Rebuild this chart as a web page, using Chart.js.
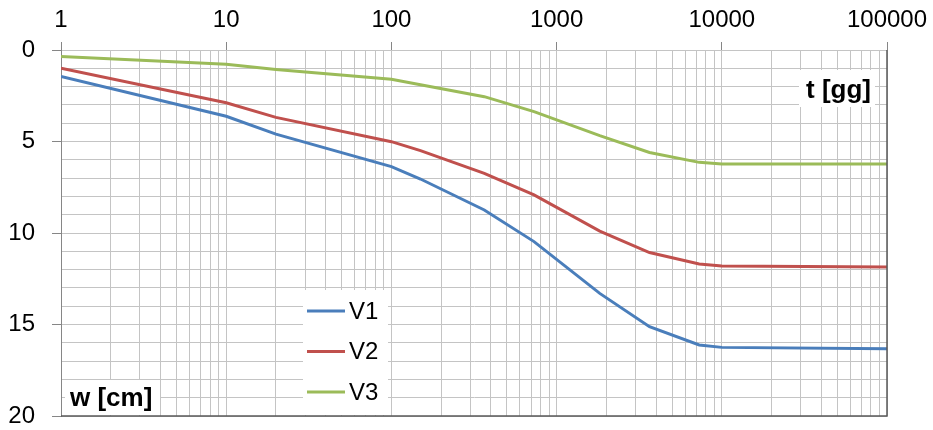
<!DOCTYPE html>
<html>
<head>
	<meta charset="utf-8">
	<title>cedimenti w(t)</title>
	<script src="https://cdn.jsdelivr.net/npm/chart.js@4.4.0/dist/chart.umd.min.js"></script>
	<style>
		body { margin: 0; background: #fff; }
		#box { width: 933px; height: 430px; }
	</style>
</head>
<body>
	<div id="box">
		<canvas id="chart"></canvas>
	</div>

	<script type="text/javascript">
		// tempi [gg] e cedimenti [cm]
		var tempi = [1, 10, 20, 100, 150, 365, 730, 1825, 3650, 7300, 10000, 100000];
		var v1 = [1.45, 3.62, 4.6, 6.37, 7.05, 8.74, 10.47, 13.3, 15.12, 16.12, 16.25, 16.32];
		var v2 = [1.0, 2.88, 3.68, 5.01, 5.5, 6.74, 7.92, 9.9, 11.07, 11.69, 11.8, 11.86];
		var v3 = [0.36, 0.78, 1.06, 1.6, 1.9, 2.55, 3.37, 4.68, 5.6, 6.14, 6.23, 6.23];
		var nomi = ['V1', 'V2', 'V3'];
		var colori = ['#4a7ebb', '#c0504d', '#9bbb59'];
		var xDecadi = [1, 10, 100, 1000, 10000, 100000];
		var yMin = 0, yMax = 20, yPasso = 1, yEtichetta = 5;
		var titoloX = 't [gg]';
		var titoloY = 'w [cm]';

		var font = "'Liberation Sans', Arial, sans-serif";
		Chart.defaults.font.family = font;
		Chart.defaults.font.size = 24;
		Chart.defaults.color = '#000';

		function punti(serie) {
			return tempi.map(function (t, i) { return { x: t, y: serie[i] }; });
		}

		function isDecade(v) {
			return xDecadi.indexOf(v) >= 0;
		}

		// bordo scuro, riquadri con i titoli e legenda dentro l'area del grafico
		var extra = {
			id: 'extra',
			afterDatasetsDraw: function (chart) {
				var ctx = chart.ctx;
				var a = chart.chartArea;
				ctx.save();

				ctx.strokeStyle = '#5a5a5a';
				ctx.lineWidth = 1.5;
				ctx.beginPath();
				ctx.moveTo(a.left, a.bottom);
				ctx.lineTo(a.right, a.bottom);
				ctx.lineTo(a.right, a.top);
				ctx.stroke();

				ctx.font = 'bold 26px ' + font;
				ctx.textBaseline = 'alphabetic';
				ctx.textAlign = 'left';

				ctx.fillStyle = '#fff';
				ctx.fillRect(a.right - 88, a.top + 20, 76, 37);
				ctx.fillStyle = '#000';
				ctx.fillText(titoloX, a.right - 81, a.top + 48);

				ctx.fillStyle = '#fff';
				ctx.fillRect(a.left + 4, a.bottom - 36, 95, 35);
				ctx.fillStyle = '#000';
				ctx.fillText(titoloY, a.left + 9, a.bottom - 10);

				// legenda
				var lx = a.left + 242, ly = a.top + 240;
				ctx.fillStyle = '#fff';
				ctx.fillRect(lx, ly, 85, a.bottom - ly - 1);
				ctx.font = '24px ' + font;
				ctx.textBaseline = 'middle';
				chart.data.datasets.forEach(function (ds, i) {
					var y = ly + 21 + i * 40.5;
					ctx.strokeStyle = ds.borderColor;
					ctx.lineWidth = 3;
					ctx.beginPath();
					ctx.moveTo(lx + 4, y);
					ctx.lineTo(lx + 42, y);
					ctx.stroke();
					ctx.fillStyle = '#000';
					ctx.fillText(ds.label, lx + 46, y + 1);
				});
				ctx.restore();
			}
		};

		var config = {
			type: 'line',
			data: {
				datasets: [
					{ label: nomi[0], data: punti(v1), borderColor: colori[0], backgroundColor: colori[0] },
					{ label: nomi[1], data: punti(v2), borderColor: colori[1], backgroundColor: colori[1] },
					{ label: nomi[2], data: punti(v3), borderColor: colori[2], backgroundColor: colori[2] }
				]
			},
			options: {
				responsive: true,
				maintainAspectRatio: false,
				animation: false,
				devicePixelRatio: 1,
				layout: { padding: { left: 0, right: 46, top: 0, bottom: 14 } },
				elements: {
					line: { borderWidth: 3, tension: 0, fill: false },
					point: { radius: 0, hoverRadius: 0 }
				},
				plugins: {
					legend: { display: false },
					tooltip: { enabled: false }
				},
				scales: {
					x: {
						type: 'logarithmic',
						position: 'top',
						min: xDecadi[0],
						max: xDecadi[xDecadi.length - 1],
						afterBuildTicks: function (scale) {
							var t = [];
							for (var d = 0; d < xDecadi.length - 1; d++) {
								for (var m = 1; m < 10; m++) {
									t.push({ value: m * xDecadi[d] });
								}
							}
							t.push({ value: xDecadi[xDecadi.length - 1] });
							scale.ticks = t;
						},
						afterFit: function (scale) {
							scale.height = 50;
							scale.paddingLeft = 0;
							scale.paddingRight = 0;
						},
						ticks: {
							autoSkip: false,
							maxRotation: 0,
							minRotation: 0,
							padding: 7,
							callback: function (v) { return isDecade(v) ? String(v) : ''; }
						},
						grid: {
							color: '#c4c4c4',
							lineWidth: 1,
							tickLength: 8,
							tickColor: function (c) { return c.tick && isDecade(c.tick.value) ? '#868686' : 'rgba(0,0,0,0)'; }
						},
						border: { display: true, color: '#c4c4c4', width: 1 }
					},
					y: {
						type: 'linear',
						reverse: true,
						min: yMin,
						max: yMax,
						afterFit: function (scale) {
							scale.width = 61;
							scale.paddingTop = 0;
							scale.paddingBottom = 0;
						},
						ticks: {
							stepSize: yPasso,
							autoSkip: false,
							padding: 17,
							callback: function (v) { return v % yEtichetta === 0 ? String(v) : ''; }
						},
						grid: {
							color: '#c4c4c4',
							lineWidth: 1,
							tickLength: 9,
							tickColor: function (c) { return c.tick && c.tick.value % yEtichetta === 0 ? '#868686' : 'rgba(0,0,0,0)'; }
						},
						border: { display: true, color: '#868686', width: 1 }
					}
				}
			},
			plugins: [extra]
		};

		var ctx = document.getElementById('chart').getContext('2d');
		var chart = new Chart(ctx, config);
	</script>
</body>
</html>
